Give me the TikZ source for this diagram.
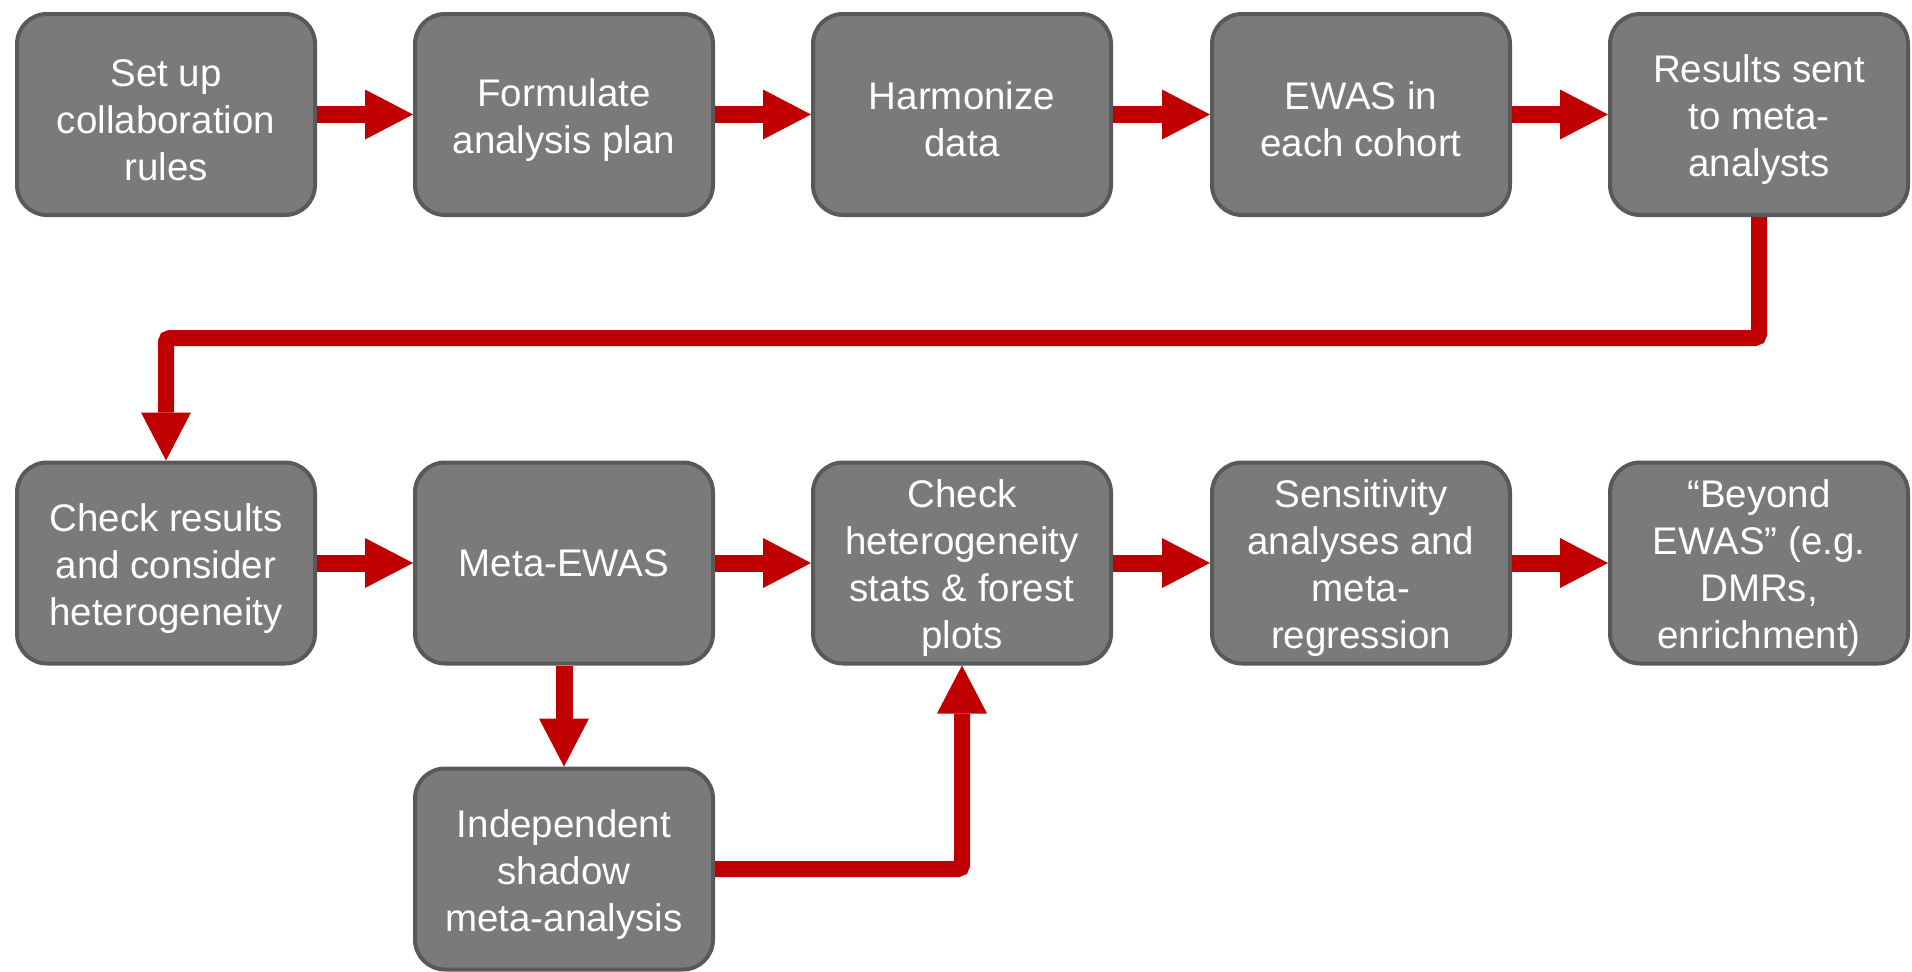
\documentclass[tikz,border=0pt]{standalone}
\usepackage{fontspec}
\setmainfont{Liberation Sans}
\usetikzlibrary{arrows.meta}
\definecolor{boxfill}{RGB}{122,122,122}
\definecolor{boxline}{RGB}{89,89,89}
\definecolor{arrred}{RGB}{192,0,0}
\newcommand{\toppad}{\rule{0pt}{38pt}}
\begin{document}
\begin{tikzpicture}[x=1pt,y=-1pt,
  stepbox/.style={draw=boxline, fill=boxfill, line width=4pt, rounded corners=30pt,
    minimum width=298pt, minimum height=201pt, inner sep=0pt, align=center,
    text=white, font=\fontsize{38.5}{47}\selectfont},
  flow/.style={draw=arrred, line width=17pt,
    -{Triangle[length=48pt,width=50pt,line width=0pt]}},
  elbowline/.style={draw=arrred, line width=16pt, rounded corners=4pt,
    -{Triangle[length=48pt,width=50pt,line width=0pt]}}
]
\useasboundingbox (0,0) rectangle (1912,972);
% row 1
\node[stepbox] (a1) at (166,114.5) {\toppad Set up\\collaboration\\rules};
\node[stepbox] (a2) at (564,114.5) {\toppad Formulate\\analysis plan};
\node[stepbox] (a3) at (962,114.5) {\toppad Harmonize\\data};
\node[stepbox] (a4) at (1361,114.5) {\toppad EWAS in\\each cohort};
\node[stepbox] (a5) at (1759,114.5) {\toppad Results sent\\to meta-\\analysts};
% row 2
\node[stepbox] (b1) at (166,563) {\toppad Check results\\and consider\\heterogeneity};
\node[stepbox] (b2) at (564,563) {Meta-EWAS};
\node[stepbox] (b3) at (962,563) {\toppad Check\\heterogeneity\\stats \& forest\\plots};
\node[stepbox] (b4) at (1361,563) {\toppad Sensitivity\\analyses and\\meta-\\regression};
\node[stepbox] (b5) at (1759,563) {\toppad “Beyond\\EWAS” (e.g.\\DMRs,\\enrichment)};
% row 3
\node[stepbox] (c2) at (564,869) {\toppad Independent\\shadow\\meta-analysis};
% connectors
\draw[flow] (a1) -- (a2);
\draw[flow] (a2) -- (a3);
\draw[flow] (a3) -- (a4);
\draw[flow] (a4) -- (a5);
\coordinate (turn) at (166,338);
\draw[elbowline] (a5.south) |- (turn) -- (b1.north);
\draw[flow] (b1) -- (b2);
\draw[flow] (b2) -- (b3);
\draw[flow] (b3) -- (b4);
\draw[flow] (b4) -- (b5);
\draw[flow] (b2) -- (c2);
\draw[elbowline] (c2.east) -| (b3.south);
\end{tikzpicture}
\end{document}
